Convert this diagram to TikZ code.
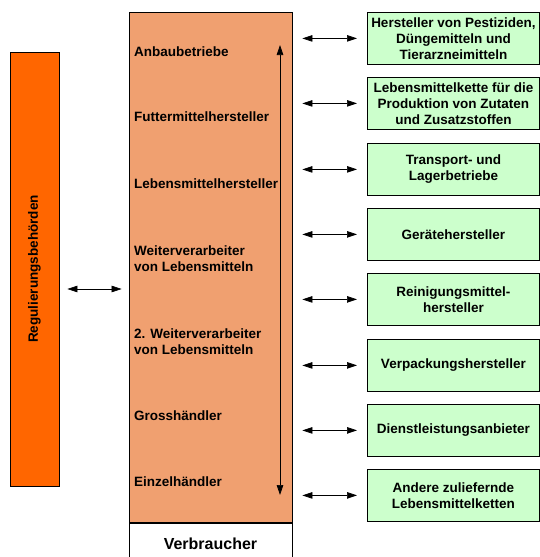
\documentclass[tikz,border=0pt]{standalone}
\usepackage{fontspec}
\setmainfont{Liberation Sans}
\usetikzlibrary{arrows.meta,positioning}
\definecolor{regorange}{HTML}{FF6600}
\definecolor{chainsalmon}{HTML}{F0A070}
\definecolor{supgreen}{HTML}{CCFFCC}

\begin{document}
\begin{tikzpicture}[x=1pt,y=-1pt]
        \tikzstyle{every node}=[font=\fontsize{13.5}{16}\selectfont\bfseries, inner sep=0pt]
        \tikzstyle{stage}=[anchor=west, align=left]
        \tikzstyle{block}=[draw, line width=0.8pt]
        \tikzstyle{supplier}=[block, fill=supgreen, minimum width=172pt, minimum height=52pt, align=center, anchor=north west]
        \tikzstyle{link}=[{Triangle[length=10pt,width=6.5pt]}-{Triangle[length=10pt,width=6.5pt]}, line width=0.7pt]
        \useasboundingbox (0,0) rectangle (539,557);
        % Behoerde links
        \node[block, fill=regorange, minimum width=49pt, minimum height=434pt] (reg) at (34.5,269) {};
        \node[rotate=90] (reglabel) at (reg) {Regulierungsbehörden};
        % Lebensmittelkette
        \node[block, fill=chainsalmon, minimum width=163pt, minimum height=510pt] (chain) at (210.5,267) {};
        \node[block, fill=white, minimum width=163pt, minimum height=40pt, below=1pt of chain, font=\fontsize{16}{19}\selectfont\bfseries] (cons) {Verbraucher};
        \node[stage] (s1) at (134,52) {Anbaubetriebe};
        \node[stage] (s2) at (134,117) {Futtermittelhersteller};
        \node[stage] (s3) at (134,184) {Lebensmittelhersteller};
        \node[stage] (s4) at (134,259) {Weiterverarbeiter\\von Lebensmitteln};
        \node[stage] (s5) at (134,342) {2. Weiterverarbeiter\\von Lebensmitteln};
        \node[stage] (s6) at (134,416) {Grosshändler};
        \node[stage] (s7) at (134,482) {Einzelhändler};
        \coordinate (up) at (280,45);
        \coordinate (down) at (280,495);
        \draw[link] (down) -- (up);
        % Zulieferer rechts
        \node[supplier] (g1) at (367,12) {Hersteller von Pestiziden,\\Düngemitteln und\\Tierarzneimitteln};
        \node[supplier] (g2) at (367,77) {Lebensmittelkette für die\\Produktion von Zutaten\\und Zusatzstoffen};
        \node[supplier] (g3) at (367,143) {Transport- und\\Lagerbetriebe};
        \node[supplier] (g4) at (367,208) {Gerätehersteller};
        \node[supplier] (g5) at (367,273) {Reinigungsmittel-\\hersteller};
        \node[supplier] (g6) at (367,339) {Verpackungshersteller};
        \node[supplier] (g7) at (367,404) {Dienstleistungsanbieter};
        \node[supplier] (g8) at (367,469) {Andere zuliefernde\\Lebensmittelketten};
        \foreach \g in {g1,g2,g3,g4,g5,g6,g7,g8}
          \draw[link, shorten <=10pt, shorten >=10pt] (chain.east |- \g.west) -- (\g.west);
        \draw[link, shorten <=8pt, shorten >=7pt] ([yshift=-20pt]reg.east) -- ([yshift=-20pt]reg.east -| chain.west);
\end{tikzpicture}
\end{document}
